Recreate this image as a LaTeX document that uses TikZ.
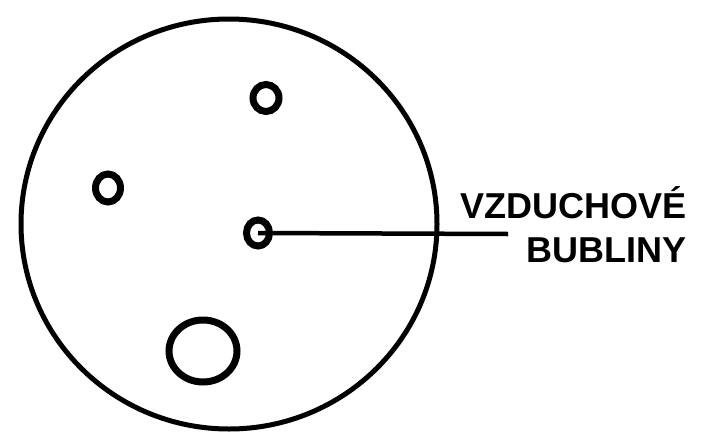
\documentclass[tikz,border=0pt]{standalone}
\usepackage{fontspec}
\setmainfont{Liberation Sans}
\usetikzlibrary{shapes.geometric}

\begin{document}
\begin{tikzpicture}[
  x=1pt, y=-1pt,
  drop/.style={
    draw=black,
    ellipse,
    line width=5pt,
    inner sep=0pt,
  },
  bubble/.style={
    draw=black,
    ellipse,
    line width=7pt,
    inner sep=0pt,
  },
  lbl/.style={
    font=\bfseries\fontsize{36}{38}\selectfont,
    inner sep=0pt,
    anchor=west,
  },
]

  \useasboundingbox[fill=white] (0,0) rectangle (722,434);

  % the drop with the air inside
  \node[drop, minimum width=416pt, minimum height=410pt] (kapka) at (229,224) {};

  \node[bubble, minimum width=26pt, minimum height=27pt] (bhorni) at (266,98) {};
  \node[bubble, minimum width=25pt, minimum height=28pt] (blevy) at (108,188) {};
  \node[bubble, minimum width=23pt, minimum height=26pt] (bstred) at (258,233) {};
  \node[bubble, minimum width=68pt, minimum height=62pt] (bdolni) at (203,351) {};

  % label
  \node[lbl] (vzduch) at (460,203) {VZDUCHOVÉ};
  \node[lbl] (bubliny) at (526,250) {BUBLINY};

  \coordinate (konec) at (508,234);
  \draw[line width=4.5pt] (bstred.center) -- (konec);

\end{tikzpicture}
\end{document}
